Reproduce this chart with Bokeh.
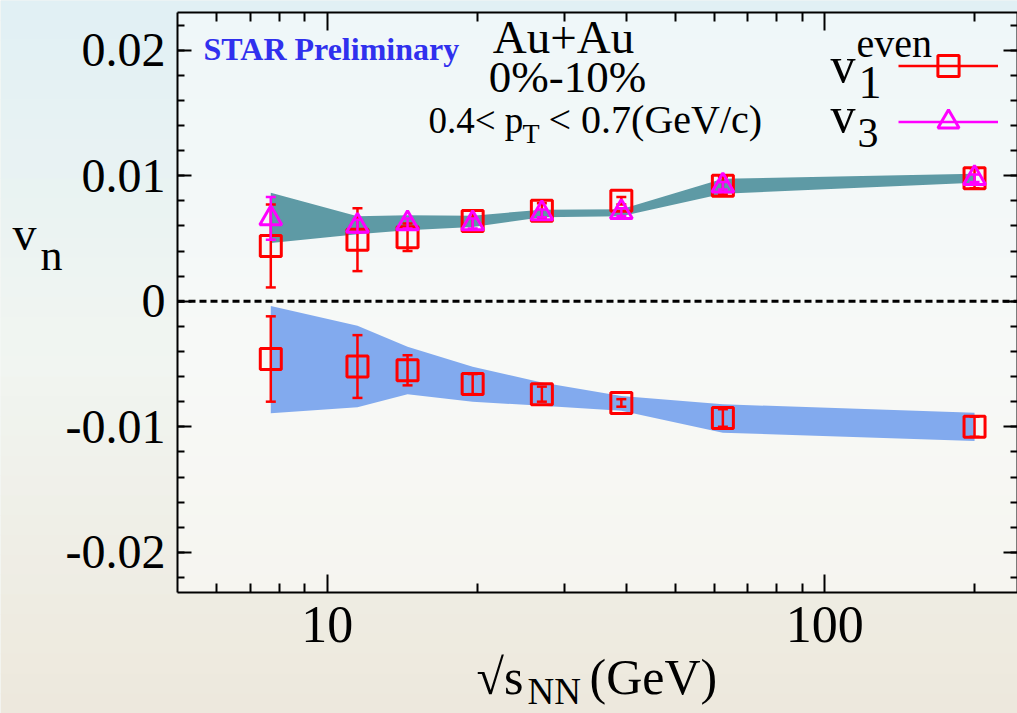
import numpy as np
from math import log10
from bokeh.plotting import figure
from bokeh.models import (FixedTicker, LogAxis, LinearAxis, Label, Legend,
                          LegendItem, Range1d, ColumnDataSource, BoxAnnotation)
from bokeh.embed import file_html
from bokeh.resources import INLINE

# ---------------- data ----------------
energies = [7.7, 11.5, 14.5, 19.6, 27.0, 39.0, 62.4, 200.0]
v1_pos = [0.0044, 0.0049, 0.0051, 0.0064, 0.0072, 0.0080, 0.0092, 0.0098]
v1_pos_err = [0.0033, 0.0025, 0.0011, 0.0008, 0.0006, 0.0003, 0.0007, 0.0008]
v1_neg = [-0.0046, -0.0052, -0.0055, -0.0066, -0.0074, -0.0081, -0.0093, -0.0100]
v1_neg_err = [0.0034, 0.0025, 0.0012, 0.0008, 0.0006, 0.0003, 0.0007, 0.0008]
v3 = [0.0066, 0.0060, 0.0062, 0.0062, 0.0070, 0.0071, 0.0092, 0.0098]
v3_err = [0.0017, 0.0005, 0.0004, 0.0004, 0.0003, 0.0003, 0.0003, 0.0003]
v3_band_lo = [0.00464, 0.00533, 0.00565, 0.00591, 0.00670, 0.00678, 0.00856, 0.00944]
v3_band_hi = [0.00864, 0.00678, 0.00684, 0.00682, 0.00729, 0.00732, 0.00976, 0.01016]
v1_band_lo = [-0.00893, -0.00845, -0.00740, -0.00800, -0.00833, -0.00872, -0.01047, -0.01113]
v1_band_hi = [-0.00037, -0.00196, -0.00363, -0.00522, -0.00647, -0.00755, -0.00821, -0.00888]

x_ticks = [10, 100]
x_tick_labels = ["10", "100"]
x_minor = [6, 7, 8, 9, 20, 30, 40, 50, 60, 70, 80, 90, 200]
y_ticks = [-0.02, -0.01, 0.0, 0.01, 0.02]
y_tick_labels = ["-0.02", "-0.01", "0", "0.01", "0.02"]
y_minor = [round(v, 3) for v in np.arange(-0.022, 0.0221, 0.002)]

# ---------------- layout ----------------
W, H = 1017, 713
FL, FT, FR, FB = 177, 12, 1017, 592      # pixel box of the data area
X0, X1 = 5.0, 244.0
Y0, Y1 = -0.0232, 0.0230
FONT = "Liberation Serif"

def px2x(px):
    a, b = log10(X0), log10(X1)
    return 10 ** (a + (px - FL) / (FR - FL) * (b - a))

def py2y(py):
    return Y1 - (py - FT) / (FB - FT) * (Y1 - Y0)

# frame covers the whole canvas; axes are pinned at the data-area edges
p = figure(width=W, height=H, x_axis_type="log", x_axis_location=None,
           y_axis_location=None,
           x_range=Range1d(px2x(0), px2x(W)), y_range=Range1d(py2y(H), py2y(0)),
           output_backend="svg", toolbar_location=None,
           min_border=0, min_border_left=0, min_border_right=0,
           min_border_top=0, min_border_bottom=0,
           background_fill_color="#ebf0ec", border_fill_color="#ebf0ec")
p.grid.visible = False
p.outline_line_color = None

# soft slide-like background gradient (decoration only)
def hex2rgb(h):
    return np.array([int(h[i:i + 2], 16) for i in (1, 3, 5)], dtype=float)

stops_py = [0, 360, H]
stops_col = [hex2rgb("#e1f0f4"), hex2rgb("#f1f5f1"), hex2rgb("#ede8dc")]
NSTRIP = 36
edges = np.linspace(0, H, NSTRIP + 1)
for i in range(NSTRIP):
    mid = 0.5 * (edges[i] + edges[i + 1])
    col = np.array([np.interp(mid, stops_py, [c[k] for c in stops_col]) for k in range(3)])
    hexcol = "#%02x%02x%02x" % tuple(int(round(v)) for v in col)
    p.add_layout(BoxAnnotation(top=py2y(edges[i] - 0.5), bottom=py2y(edges[i + 1] + 0.5),
                               fill_color=hexcol, fill_alpha=1.0, line_color=None,
                               level="image"))

p.add_layout(BoxAnnotation(left=X0, right=X1, bottom=Y0, top=Y1,
                           fill_color="white", fill_alpha=0.45,
                           line_color=None, level="underlay"))

def style_axis(ax, major_in, minor_in):
    ax.axis_line_width = 2
    ax.axis_line_color = "black"
    ax.major_tick_line_width = 2
    ax.minor_tick_line_width = 2
    ax.major_tick_in = major_in
    ax.major_tick_out = 0
    ax.minor_tick_in = minor_in
    ax.minor_tick_out = 0
    ax.major_label_text_color = "black"
    ax.major_label_text_font = FONT

bottom = LogAxis(ticker=FixedTicker(ticks=x_ticks, minor_ticks=x_minor),
                 major_label_overrides=dict(zip(x_ticks, x_tick_labels)),
                 major_label_text_font_size="52px", major_label_standoff=14,
                 fixed_location=Y0, bounds=(X0, X1))
style_axis(bottom, 18, 9)
p.add_layout(bottom, "below")

top = LogAxis(ticker=FixedTicker(ticks=x_ticks, minor_ticks=x_minor),
              major_label_overrides={t: "" for t in x_ticks},
              major_label_text_font_size="1px", major_label_standoff=0,
              fixed_location=Y1, bounds=(X0, X1))
style_axis(top, 18, 9)
p.add_layout(top, "above")

left = LinearAxis(ticker=FixedTicker(ticks=y_ticks, minor_ticks=y_minor),
                  major_label_overrides=dict(zip(y_ticks, y_tick_labels)),
                  major_label_text_font_size="48px", major_label_standoff=12,
                  fixed_location=X0, bounds=(Y0, Y1))
style_axis(left, 14, 7)
p.add_layout(left, "left")

right = LinearAxis(ticker=FixedTicker(ticks=y_ticks, minor_ticks=y_minor),
                   major_label_overrides={t: "" for t in y_ticks},
                   major_label_text_font_size="1px", major_label_standoff=0,
                   fixed_location=X1, bounds=(Y0, Y1))
style_axis(right, 14, 7)
p.add_layout(right, "right")

# ---------------- systematic bands ----------------
p.varea(x=energies, y1=v3_band_lo, y2=v3_band_hi, fill_color="#5e9aa5")
p.varea(x=energies, y1=v1_band_lo, y2=v1_band_hi, fill_color="#82aaee")

# zero reference line across the data area
p.segment(x0=X0, y0=0, x1=X1, y1=0, line_color="black", line_width=3, line_dash="7 4")

RED, MAG = "#ff0000", "#ff00ff"

# ---------------- v1 even (both signs) ----------------
src_v1 = ColumnDataSource(dict(
    x=energies * 2,
    y=v1_pos + v1_neg,
    lo=list(np.array(v1_pos) - np.array(v1_pos_err)) + list(np.array(v1_neg) - np.array(v1_neg_err)),
    hi=list(np.array(v1_pos) + np.array(v1_pos_err)) + list(np.array(v1_neg) + np.array(v1_neg_err)),
))
seg1 = p.segment(x0="x", y0="lo", x1="x", y1="hi", source=src_v1, line_color=RED, line_width=2.5)
p.scatter(x="x", y="lo", source=src_v1, marker="dash", size=10, line_color=RED, line_width=2.5)
p.scatter(x="x", y="hi", source=src_v1, marker="dash", size=10, line_color=RED, line_width=2.5)
sq = p.scatter(x="x", y="y", source=src_v1, marker="square", size=21,
               fill_color=None, line_color=RED, line_width=3)

# ---------------- v3 ----------------
src_v3 = ColumnDataSource(dict(
    x=energies, y=v3,
    lo=list(np.array(v3) - np.array(v3_err)),
    hi=list(np.array(v3) + np.array(v3_err)),
))
seg3 = p.segment(x0="x", y0="lo", x1="x", y1="hi", source=src_v3, line_color=MAG, line_width=2.5)
p.scatter(x="x", y="lo", source=src_v3, marker="dash", size=10, line_color=MAG, line_width=2.5)
p.scatter(x="x", y="hi", source=src_v3, marker="dash", size=10, line_color=MAG, line_width=2.5)
tri = p.scatter(x="x", y="y", source=src_v3, marker="triangle", size=22,
                fill_color=None, line_color=MAG, line_width=3)

# ---------------- legend (keys only; labels drawn as text) ----------------
leg = Legend(items=[LegendItem(label=" ", renderers=[seg1, sq]),
                    LegendItem(label=" ", renderers=[seg3, tri])],
             location=(898, H - 148), orientation="vertical",
             glyph_width=100, glyph_height=53, spacing=3, padding=0, margin=0,
             label_width=0, label_standoff=0, label_text_font_size="1px",
             border_line_color=None, background_fill_alpha=0)
p.add_layout(leg)

# ---------------- texts ----------------
def add_text(txt, px, py, size, align="left", bold=False, color="black"):
    # py is the wanted baseline; small correction for the renderer's baseline
    p.add_layout(Label(x=px2x(px), y=py2y(py - 0.36 * size), text=txt, text_font=FONT,
                       text_font_size=f"{size}px", text_align=align,
                       text_baseline="alphabetic", text_color=color,
                       text_font_style="bold" if bold else "normal"))

add_text("STAR Preliminary", 203, 60, 32, bold=True, color="#3030ee")
add_text("Au+Au", 563, 53, 47, align="center")
add_text("0%-10%", 567, 93, 45, align="center")
add_text("0.4< p", 428, 133, 37)
add_text("T", 522, 143, 28)
add_text("< 0.7(GeV/c)", 548, 133, 40)

add_text("v", 830, 82, 50)
add_text("even", 856, 57, 40)
add_text("1", 858, 99, 46)
add_text("v", 830, 132, 50)
add_text("3", 857, 148, 42)

add_text("v", 12, 250, 48)
add_text("n", 40, 271, 44)

add_text("\u221as", 476, 694, 50)
add_text("NN", 527, 704, 37)
add_text("(GeV)", 589, 694, 50)

open("out.html", "w").write(file_html(p, INLINE))
